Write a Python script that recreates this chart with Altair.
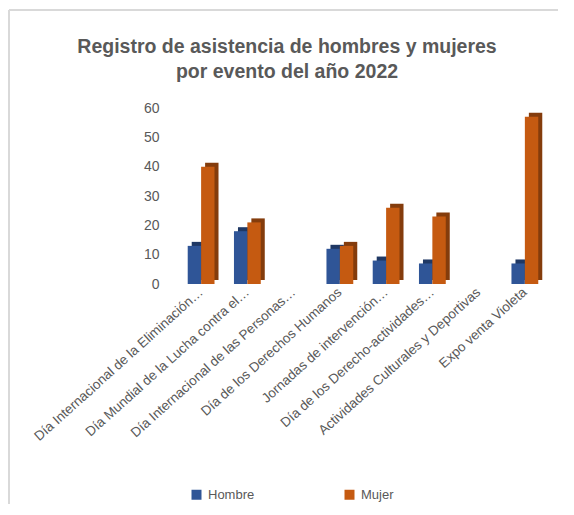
import altair as alt
import pandas as pd

categorias = [
    "Día Internacional de la Eliminación…",
    "Día Mundial de la Lucha contra el…",
    "Día Internacional de las Personas…",
    "Día de los Derechos Humanos",
    "Jornadas de intervención…",
    "Día de los Derecho-actividades…",
    "Actividades Culturales y Deportivas",
    "Expo venta Violeta",
]
hombre = [13, 18, 0, 12, 8, 7, 0, 7]
mujer = [40, 21, 0, 13, 26, 23, 0, 57]
series = ["Hombre", "Mujer"]
colores = ["#2F5597", "#C55A11"]
colores_lado = ["#1F3864", "#843C0C"]
titulo = ["Registro de asistencia de hombres y mujeres", "por evento del año 2022"]

rows = []
for c, h, m in zip(categorias, hombre, mujer):
    rows.append({"categoria": c, "serie": "Hombre", "valor": h})
    rows.append({"categoria": c, "serie": "Mujer", "valor": m})
df = pd.DataFrame(rows)

FONT = "Liberation Sans"
GRAY = "#595959"

x_enc = alt.X("categoria:N", sort=categorias, title=None,
              scale=alt.Scale(paddingInner=0.42, paddingOuter=0.21),
              axis=alt.Axis(labelAngle=-42, labelAlign="right", labelBaseline="middle",
                            labelFontSize=13.5, labelColor=GRAY, labelFont=FONT,
                            labelLimit=400, labelPadding=6, ticks=False, domain=False))
y_enc = alt.Y("valor:Q", title=None,
              scale=alt.Scale(domain=[0, 60]),
              axis=alt.Axis(values=[0, 10, 20, 30, 40, 50, 60], grid=False, domain=False,
                            ticks=False, labelPadding=19, labelFontSize=14,
                            labelColor=GRAY, labelFont=FONT))

base = alt.Chart(df)

lado = base.mark_bar(yOffset=-4, y2Offset=0).encode(
    x=x_enc, y=y_enc,
    xOffset=alt.XOffset("serie:N", sort=series, scale=alt.Scale(range=[4, 30.8])),
    color=alt.condition(alt.datum.serie == "Hombre", alt.value(colores_lado[0]), alt.value(colores_lado[1])),
)

frente = base.mark_bar().encode(
    x=x_enc, y=y_enc,
    xOffset=alt.XOffset("serie:N", sort=series, scale=alt.Scale(range=[0, 26.8])),
    color=alt.Color("serie:N", sort=series,
                    scale=alt.Scale(domain=series, range=colores),
                    legend=alt.Legend(title=None, orient="none", direction="horizontal",
                                      legendX=12, legendY=380, symbolType="square",
                                      symbolSize=100, symbolStrokeWidth=0,
                                      labelFontSize=13, labelColor=GRAY, labelFont=FONT,
                                      columnPadding=88, labelOffset=5)),
)

borde = alt.Chart(alt.Data(values=[{}]))
linea_sup = borde.mark_rule(color="#D9D9D9", strokeWidth=2).encode(
    x=alt.value(-169), x2=alt.value(400), y=alt.value(-98))
linea_izq = borde.mark_rule(color="#D9D9D9", strokeWidth=2).encode(
    x=alt.value(-169), y=alt.value(-98), y2=alt.value(420))

t1 = borde.mark_text(font=FONT, fontSize=19.5, fontWeight="bold", color=GRAY,
                     align="center", baseline="middle").encode(
    x=alt.value(109), y=alt.value(-61), text=alt.value(titulo[0]))
t2 = borde.mark_text(font=FONT, fontSize=19.5, fontWeight="bold", color=GRAY,
                     align="center", baseline="middle").encode(
    x=alt.value(109), y=alt.value(-36), text=alt.value(titulo[1]))

chart = alt.layer(linea_sup, linea_izq, t1, t2, lado, frente).resolve_scale(
    xOffset="independent"
).properties(
    width=370, height=176,
    padding={"left": 170, "top": 100, "right": 10, "bottom": 220},
    autosize=alt.AutoSizeParams(type="none"),
).configure_view(stroke=None)

chart.save("out.html", embed_options={"renderer": "svg", "actions": False})
